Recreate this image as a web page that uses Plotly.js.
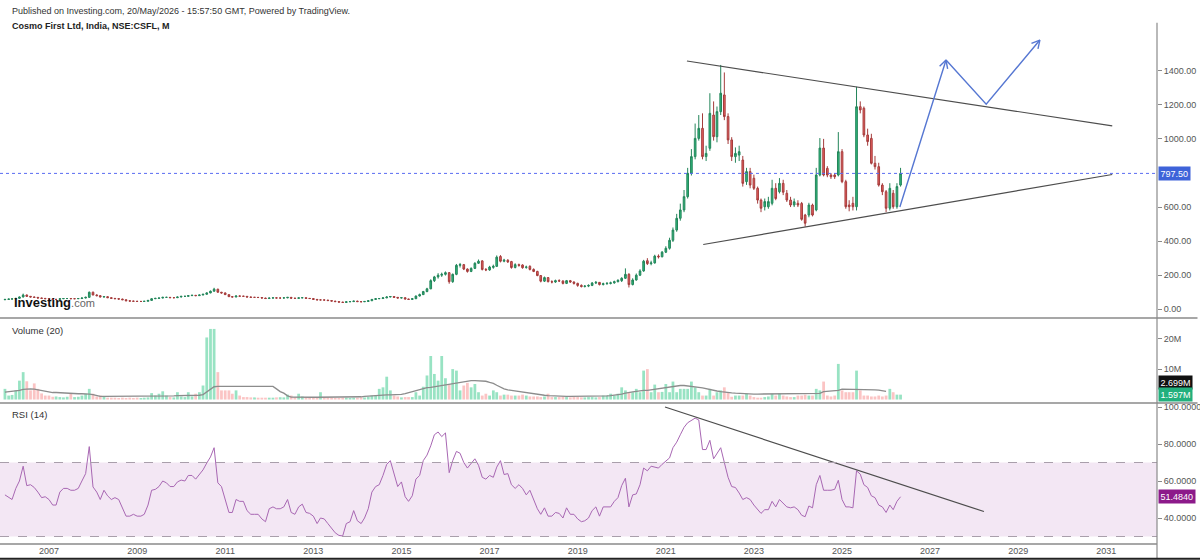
<!DOCTYPE html>
<html>
<head>
<meta charset="utf-8">
<script src="https://cdn.plot.ly/plotly-3.0.1.min.js"></script>
<style>
html,body{margin:0;padding:0;background:#fff;}
#chart{width:1200px;height:560px;}
</style>
</head>
<body>
<div id="chart"></div>
<script>
// ---- Monthly OHLC, NSE:CSFL, Jan 2006 .. May 2026 ----
const open = [
  56,58,60,61,64,72,84,76,72,70,66,64,            // 2006
  62,60,58,58,62,63,63,62,62,63,66,70,            // 2007
  100,84,80,72,74,68,64,62,60,56,50,48,           // 2008
  47,46,46,47,52,62,64,66,70,70,68,68,            // 2009
  72,76,76,80,82,80,84,88,96,106,118,100,         // 2010
  96,86,74,72,78,77,76,72,70,70,69,66,            // 2011
  63,66,67,66,66,67,70,65,64,67,68,64,            // 2012
  63,58,55,55,54,51,48,45,42,40,44,45,            // 2013
  48,45,44,46,50,58,62,63,67,72,75,70,            // 2014
  66,68,60,58,62,78,86,104,120,168,190,200,       // 2015
  205,215,162,205,258,262,236,222,240,270,284,234,// 2016
  231,246,252,310,282,288,280,245,262,260,246,252,// 2017
  234,222,198,165,186,162,160,168,166,152,168,160,// 2018
  152,140,134,136,140,154,158,145,150,152,155,162,// 2019
  168,182,205,145,172,200,225,285,268,272,312,308,// 2020
  335,358,405,465,534,583,661,798,896,1003,1062,896, // 2021
  945,1140,1013,1160,1258,1131,994,896,905,876,749,808, // 2022
  769,710,641,602,602,622,710,690,739,681,641,612, // 2023
  622,621,553,553,612,583,788,946,827,788,788,788, // 2024
  925,749,612,622,602,1189,1180,1023,1003,857,837,729, // 2025
  690,593,681,602,729                              // 2026
];
const high = [
  60,62,63,66,75,92,86,78,74,72,68,66,
  64,62,60,64,66,66,65,64,66,69,74,104,
  104,88,82,78,76,70,66,64,62,58,52,50,
  49,48,49,54,64,67,68,73,73,72,70,74,
  78,79,82,85,84,86,90,99,110,126,120,102,
  98,88,77,80,80,79,77,74,72,72,70,68,
  68,69,69,68,69,72,71,67,69,70,69,66,
  64,60,57,57,55,52,49,46,44,46,47,50,
  50,47,48,52,60,64,66,70,76,78,76,72,
  72,69,62,64,80,92,108,126,176,196,212,215,
  222,218,210,266,272,266,240,246,276,292,288,242,
  255,262,316,318,296,294,284,270,268,264,256,258,
  240,226,200,192,188,170,174,176,170,172,172,164,
  156,146,142,146,160,166,160,156,160,162,168,176,
  188,240,212,182,210,235,290,300,285,320,322,342,
  370,420,480,560,620,700,830,940,1090,1140,1150,960,
  1268,1220,1190,1434,1390,1150,1010,950,960,900,830,830,
  790,720,650,650,660,760,740,770,760,700,660,650,
  640,630,560,625,620,830,1005,1000,840,800,800,1040,
  940,760,640,660,1306,1220,1190,1060,1030,900,860,740,
  700,740,700,740,830
];
const low = [
  54,56,58,59,62,70,74,70,68,64,62,60,
  58,56,56,57,60,61,60,60,61,62,64,68,
  82,76,70,70,66,62,60,56,54,48,45,44,
  44,43,44,46,51,60,62,64,67,66,65,66,
  70,73,75,78,77,79,82,86,94,104,98,92,
  84,72,70,71,75,74,70,68,67,67,64,61,
  62,64,64,64,64,65,63,62,63,65,62,61,
  57,54,53,53,50,47,44,41,38,39,43,44,
  44,42,43,45,49,56,60,61,65,70,68,64,
  64,58,55,56,60,75,84,100,118,160,180,190,
  198,150,155,200,245,230,215,218,236,266,228,224,
  226,238,248,275,276,272,238,240,250,238,238,228,
  218,194,158,160,158,152,155,160,146,148,155,145,
  132,128,128,130,136,148,140,140,144,146,150,158,
  160,178,128,140,168,195,220,260,258,268,298,305,
  330,350,395,455,520,570,650,785,880,990,880,870,
  930,990,980,1140,1110,970,870,860,870,720,730,710,
  700,620,570,580,590,610,640,680,670,630,600,600,
  600,520,485,540,545,575,780,780,775,765,765,780,
  740,590,575,580,580,1150,1010,960,850,820,720,670,
  570,580,590,590,720
];
const close = [
  58,60,61,64,72,84,76,72,70,66,64,62,
  60,58,58,62,63,63,62,62,63,66,70,100,
  84,80,72,74,68,64,62,60,56,50,48,47,
  46,46,47,52,62,64,66,70,70,68,68,72,
  76,76,80,82,80,84,88,96,106,118,100,96,
  86,74,72,78,77,76,72,70,70,69,66,63,
  66,67,66,66,67,70,65,64,67,68,64,63,
  58,55,55,54,51,48,45,42,40,44,45,48,
  45,44,46,50,58,62,63,67,72,75,70,66,
  68,60,58,62,78,86,104,120,168,190,200,205,
  215,162,205,258,262,236,222,240,270,282,234,231,
  248,252,306,282,288,278,245,262,258,244,248,234,
  222,198,165,186,162,160,168,166,152,168,160,152,
  140,134,136,140,154,158,145,150,152,155,162,170,
  182,205,145,172,200,225,282,268,272,312,308,335,
  358,405,465,534,583,661,798,896,1003,1062,896,915,
  1150,1013,1160,1268,1131,994,896,915,925,739,808,729,
  710,641,593,632,632,710,650,739,687,641,612,631,
  612,528,505,612,553,788,946,788,788,778,778,925,
  749,602,602,602,1189,1170,1023,984,857,837,729,690,
  593,710,602,720,797.5
];
// Volume, millions
const volumeM = [
  3.5,1.3,1.5,3.0,6.2,9.0,6.0,3.0,5.3,3.5,2.0,1.3,
  1.3,0.9,1.0,0.8,0.7,0.9,2.1,0.8,0.9,1.3,1.9,3.5,
  1.9,1.0,1.3,0.9,0.6,0.6,0.6,0.5,0.6,0.5,0.6,0.5,
  0.6,0.5,0.6,0.7,2.1,1.3,1.9,2.7,1.3,0.8,0.7,2.4,
  1.0,0.8,2.4,1.0,1.9,2.4,4.6,20.4,23.2,23.2,9.0,3.0,
  3.0,3.0,1.9,3.0,1.3,0.8,0.8,0.7,0.7,0.6,0.6,0.6,
  0.6,0.6,0.7,0.75,0.7,1.6,1.3,0.8,1.9,1.0,0.8,0.7,
  0.7,0.8,2.4,0.8,0.75,0.6,0.5,0.5,0.6,0.6,0.5,0.6,
  0.6,0.7,0.7,0.9,1.3,1.3,3.5,4.0,7.5,3.0,1.3,1.0,
  0.7,0.8,0.8,0.8,2.4,1.3,4.2,7.9,14.3,8.4,6.2,14.3,
  7.0,5.0,10.0,9.5,3.0,4.6,5.5,4.0,5.1,2.4,1.3,1.9,
  1.3,3.0,2.4,1.3,1.6,1.6,1.3,1.3,1.3,1.6,1.3,1.0,
  1.0,1.0,0.8,1.0,1.9,0.8,0.8,0.8,0.9,0.8,0.7,0.8,
  0.8,0.7,0.7,0.8,0.8,0.7,0.8,1.3,1.3,1.9,1.3,1.9,
  4.0,3.0,2.4,2.4,3.5,2.4,9.5,10.0,2.4,4.9,2.4,2.5,
  5.1,2.4,5.9,2.4,3.5,3.5,3.5,5.9,4.0,2.4,1.3,1.3,
  3.5,1.3,2.4,3.0,4.0,2.4,0.9,1.3,1.3,1.3,2.0,1.3,
  0.8,0.6,0.6,0.8,1.0,1.9,1.3,2.0,1.3,1.0,0.8,0.8,
  1.3,1.3,1.6,1.3,1.3,3.5,3.0,5.9,1.3,1.0,1.3,11.7,
  3.0,2.4,2.4,2.4,9.5,3.0,1.3,1.3,1.0,1.0,1.3,1.0,
  1.3,3.5,2.4,1.6,1.597
];
// Volume moving average (20), millions, as drawn
const volumeMA = [
  2.4,2.5,2.6,2.7,3.0,3.3,3.5,3.5,3.4,3.2,2.9,2.6,
  2.4,2.3,2.3,2.2,2.2,2.1,2.0,2.0,1.9,1.9,1.9,1.8,
  1.6,1.3,1.0,1.0,1.0,1.0,1.0,1.0,1.0,1.0,1.0,1.0,
  1.0,1.0,1.0,1.0,1.1,1.1,1.1,1.2,1.2,1.2,1.2,1.3,
  1.3,1.3,1.3,1.3,1.3,1.4,1.6,2.5,3.6,4.2,4.3,4.3,
  4.3,4.3,4.3,4.3,4.3,4.3,4.3,4.3,4.3,4.3,4.3,4.3,
  4.3,4.3,3.5,2.6,2.1,1.2,0.8,0.75,0.75,0.75,0.75,0.75,
  0.75,0.75,0.75,0.75,0.75,0.75,0.75,0.75,0.75,0.75,0.75,0.75,
  0.8,0.9,1.0,1.1,1.3,1.4,1.5,1.5,1.5,1.5,1.5,1.6,
  1.7,1.9,2.2,2.6,3.0,3.3,3.6,3.9,4.0,4.2,4.5,4.7,
  4.9,5.1,5.3,5.5,5.6,5.9,6.2,6.2,6.2,6.2,6.2,6.0,
  5.6,5.3,4.7,4.1,3.5,3.2,3.0,2.8,2.6,2.4,2.2,2.0,
  1.8,1.6,1.5,1.4,1.3,1.2,1.1,1.0,1.0,1.0,1.0,1.0,
  1.0,1.0,1.0,1.0,1.0,1.0,1.0,1.1,1.2,1.3,1.4,1.6,
  1.8,2.1,2.4,2.5,2.7,2.9,3.0,3.0,3.2,3.4,3.5,3.7,
  3.9,4.0,4.2,4.5,4.6,4.6,4.5,4.4,4.3,4.0,3.8,3.5,
  3.2,3.0,2.8,2.6,2.4,2.3,2.2,2.1,2.0,1.9,1.9,1.8,
  1.8,1.8,1.8,1.8,1.8,1.8,1.8,1.8,1.8,1.8,1.8,1.8,
  1.9,1.9,1.9,1.9,1.9,1.9,2.0,2.6,2.7,2.8,2.9,3.0,
  3.4,3.4,3.3,3.3,3.2,3.2,3.2,3.2,3.2,3.2,3.1,2.9,
  2.7
];
// RSI (14)
const rsi = [
  52.5,51,50,56,60,68,57.5,58,56.5,54,51,51.5,
  50,47,47,54,56,56,55,55,56,60,64,78.6,
  56.8,54,50,55,52,50,51,50,45,41,41,42,
  41,41,42,47,55,55.5,57,60,59,57,57,59.5,
  60.5,60,63,63,61,63.5,66,69.7,73,78,59,57,
  50.5,43,43,50,49,49,44,42,42,42,39.5,38,
  45,46,45,45,46,50,43,42,46,47.5,43,42.5,
  41,37,40,39.5,37,34.5,32,30.6,30.3,37,38,44,
  38.5,37,40,45,54,57,58,63,69,71,64.5,57,
  59.5,51.5,49,52,61,63,71,74,79,85,86.5,84,
  86,64.5,71,76,75,70,67,69.5,72,68.5,62,61,
  63,62,67.5,71,63.5,64,58,56,58,56,52.5,55,
  50,45,42,45.5,41,41,43,42.5,40,45.5,42,42,
  39.5,38,38.5,40,44,46,41,46,46,46,49,51,
  57.5,61.5,46,52.5,53,58,67,65.5,68,67.7,67,69,
  71,72.5,78,81,85,89,91.5,93,94,93,77,77,
  82,72,75,78,70,62,57,56.5,53.5,50,51,50,
  47,44.5,42.5,44.5,44.5,49,46,50,48,46,45.5,46,
  44.5,41.5,40.7,46.5,45.5,58,63,55,55,55,55.5,60.4,
  50,46,46,45.5,65.5,63.7,58,56.5,52,51,47,46,
  43,47,44.5,49,51.484
];
// Year tick labels
const yearTicks = ['2007','2009','2011','2013','2015','2017','2019','2021','2023','2025','2027','2029','2031'];
// Drawn studies (date, value)
const upperTrendX = ['2021-06-25','2031-02-19'], upperTrendY = [1457,1076];
const lowerTrendX = ['2021-11-07','2031-02-19'], lowerTrendY = [380,791];
const projX = ['2026-04-25','2027-05-13','2028-04-10','2029-06-29'], projY = [600,1463,1204,1580];
const rsiTrendX = ['2020-12-25','2028-03-22'], rsiTrendY = [100,43.5];
const lastPrice = 797.5, lastVolMA = '2.699M', lastVol = '1.597M', lastRsi = 51.484;

const dates = close.map((_, k) => {
  const y = 2006 + Math.floor(k / 12), m = (k % 12) + 1;
  return y + '-' + String(m).padStart(2, '0') + '-01';
});
const volColors = close.map((c, k) => c >= open[k] ? 'rgba(50,200,135,0.5)' : 'rgba(245,115,115,0.42)');

const FONT = 'Liberation Sans, Arial, sans-serif';
const GREEN = '#2fb87c', RED = '#e9605f';

const traces = [
  {type:'candlestick', x:dates, open:open, high:high, low:low, close:close,
   xaxis:'x', yaxis:'y', whiskerwidth:0, hoverinfo:'skip',
   increasing:{line:{color:'#23855a', width:1}, fillcolor:GREEN},
   decreasing:{line:{color:'#a43c3c', width:1}, fillcolor:RED}},
  {type:'scatter', mode:'lines', x:upperTrendX, y:upperTrendY, xaxis:'x', yaxis:'y',
   line:{color:'#4d4d4d', width:1.2}, hoverinfo:'skip'},
  {type:'scatter', mode:'lines', x:lowerTrendX, y:lowerTrendY, xaxis:'x', yaxis:'y',
   line:{color:'#4d4d4d', width:1.2}, hoverinfo:'skip'},
  {type:'scatter', mode:'lines', x:projX, y:projY, xaxis:'x', yaxis:'y',
   line:{color:'#5677d2', width:1.4}, hoverinfo:'skip'},
  {type:'bar', x:dates, y:volumeM, xaxis:'x', yaxis:'y2', marker:{color:volColors, line:{width:0}}, hoverinfo:'skip'},
  {type:'scatter', mode:'lines', x:dates, y:volumeMA, xaxis:'x', yaxis:'y2',
   line:{color:'#8c8c8c', width:1.3}, hoverinfo:'skip'},
  {type:'scatter', mode:'lines', x:dates, y:rsi, xaxis:'x', yaxis:'y3',
   line:{color:'#a867b3', width:1}, hoverinfo:'skip'},
  {type:'scatter', mode:'lines', x:rsiTrendX, y:rsiTrendY, xaxis:'x', yaxis:'y3',
   line:{color:'#4d4d4d', width:1.2}, hoverinfo:'skip'}
];

const axFont = {family:FONT, size:9, color:'#555'};
const P_BOT = 0.4423, V_BOT = 0.2759;

function chevron(xd, yd, a, b, c, d) {
  return [
    {type:'line', xref:'x', yref:'y', xsizemode:'pixel', ysizemode:'pixel', xanchor:xd, yanchor:yd,
     x0:0, y0:0, x1:a, y1:b, line:{color:'#5677d2', width:1.4}},
    {type:'line', xref:'x', yref:'y', xsizemode:'pixel', ysizemode:'pixel', xanchor:xd, yanchor:yd,
     x0:0, y0:0, x1:c, y1:d, line:{color:'#5677d2', width:1.4}}
  ];
}

const shapes = [
  // RSI band and levels
  {type:'rect', xref:'paper', yref:'y3', x0:0, x1:1, y0:30, y1:70, fillcolor:'#f3e7f4', line:{width:0}, layer:'below'},
  {type:'line', xref:'paper', yref:'y3', x0:0, x1:1, y0:70, y1:70, line:{color:'#a99fab', width:1, dash:'dash'}},
  {type:'line', xref:'paper', yref:'y3', x0:0, x1:1, y0:30, y1:30, line:{color:'#a99fab', width:1, dash:'dash'}},
  // last price line
  {type:'line', xref:'paper', yref:'y', x0:0, x1:1, y0:lastPrice, y1:lastPrice, line:{color:'#5a6cf2', width:1, dash:'dot'}},
  // panel separators
  {type:'line', xref:'paper', yref:'paper', x0:0, x1:1.035, y0:P_BOT, y1:P_BOT, line:{color:'#8a8a8a', width:1.3}},
  {type:'line', xref:'paper', yref:'paper', x0:0, x1:1.035, y0:V_BOT, y1:V_BOT, line:{color:'#8a8a8a', width:1.3}},
  {type:'line', xref:'paper', yref:'paper', x0:0, x1:1, y0:0, y1:0, line:{color:'#8a8a8a', width:1.3}},
  // right axis line
  {type:'line', xref:'paper', yref:'paper', x0:1, x1:1, y0:-0.03, y1:1.02, line:{color:'#8a8a8a', width:1.2}},
  // bottom border
  {type:'line', xref:'paper', yref:'paper', x0:-0.01, x1:1.05, y0:-0.029, y1:-0.029, line:{color:'#222', width:2}}
].concat(chevron(projX[1], projY[1], -6.4, -6.3, 1.6, -8.8))
 .concat(chevron(projX[3], projY[3], -8.4, -3.4, -1.9, -8.8));

const annotations = [
  {xref:'paper', yref:'paper', x:10/1157, y:1 + 22/511, xanchor:'left', yanchor:'middle', showarrow:false,
   text:'Published on Investing.com, 20/May/2026 - 15:57:50 GMT, Powered by TradingView.',
   font:{family:FONT, size:9, color:'#333'}},
  {xref:'paper', yref:'paper', x:10/1157, y:1 + 7/511, xanchor:'left', yanchor:'middle', showarrow:false,
   text:'<b>Cosmo First Ltd, India, NSE:CSFL, M</b>', font:{family:FONT, size:9, color:'#222'}},
  {xref:'paper', yref:'paper', x:10/1157, y:(544-330)/511, xanchor:'left', yanchor:'middle', showarrow:false,
   text:'Volume (20)', font:{family:FONT, size:9.5, color:'#333'}},
  {xref:'paper', yref:'paper', x:10/1157, y:(544-414)/511, xanchor:'left', yanchor:'middle', showarrow:false,
   text:'RSI (14)', font:{family:FONT, size:9.5, color:'#333'}},
  {xref:'paper', yref:'paper', x:12/1157, y:(544-302)/511, xanchor:'left', yanchor:'middle', showarrow:false,
   text:'<b>Investing</b><span style="font-size:11px;color:#666">.com</span>', font:{family:FONT, size:13, color:'#111'}},
  {xref:'paper', yref:'y', x:1, y:lastPrice, xanchor:'left', yanchor:'middle', xshift:1, showarrow:false,
   text:lastPrice.toFixed(2), bgcolor:'#3e63d9', borderpad:1.5, font:{family:FONT, size:9, color:'#fff'}},
  {xref:'paper', yref:'paper', x:1, y:(544-382)/511, xanchor:'left', yanchor:'middle', xshift:1, showarrow:false,
   text:lastVolMA, bgcolor:'#111', borderpad:1.5, font:{family:FONT, size:9, color:'#fff'}},
  {xref:'paper', yref:'paper', x:1, y:(544-394)/511, xanchor:'left', yanchor:'middle', xshift:1, showarrow:false,
   text:lastVol, bgcolor:'#22b07d', borderpad:1.5, font:{family:FONT, size:9, color:'#fff'}},
  {xref:'paper', yref:'y3', x:1, y:lastRsi, xanchor:'left', yanchor:'middle', xshift:1, showarrow:false,
   text:lastRsi.toFixed(4), bgcolor:'#8c1a8a', borderpad:1.5, font:{family:FONT, size:9, color:'#fff'}}
];

const layout = {
  width:1200, height:560,
  margin:{l:0, r:43, t:33, b:16, pad:0},
  paper_bgcolor:'#fff', plot_bgcolor:'rgba(0,0,0,0)',
  showlegend:false, bargap:0.18,
  font:{family:FONT, size:9, color:'#555'},
  xaxis:{type:'date', range:['2005-11-21','2032-02-25'], anchor:'y3',
    rangeslider:{visible:false}, showgrid:false, zeroline:false, showline:false,
    tickvals:yearTicks.map(y => y + '-01-01'), ticktext:yearTicks, ticks:'', tickfont:axFont},
  yaxis:{domain:[P_BOT, 1], range:[-51.1, 1621.5], side:'right', anchor:'x',
    showgrid:false, zeroline:false, showline:false,
    tickvals:[0,200,400,600,1000,1200,1400], tickformat:'.2f',
    ticks:'outside', ticklen:4, tickcolor:'#8a8a8a', tickfont:axFont},
  yaxis2:{domain:[V_BOT, P_BOT], range:[-1.15, 26.8], side:'right', anchor:'x',
    showgrid:false, zeroline:false, showline:false,
    tickvals:[10,20], ticktext:['10M','20M'],
    ticks:'outside', ticklen:4, tickcolor:'#8a8a8a', tickfont:axFont},
  yaxis3:{domain:[0, V_BOT], range:[25.95, 102.16], side:'right', anchor:'x',
    showgrid:false, zeroline:false, showline:false,
    tickvals:[40,60,80,100], tickformat:'.4f',
    ticks:'outside', ticklen:4, tickcolor:'#8a8a8a', tickfont:axFont},
  shapes:shapes,
  annotations:annotations
};

Plotly.newPlot('chart', traces, layout, {staticPlot:true, displayModeBar:false});
</script>
</body>
</html>
